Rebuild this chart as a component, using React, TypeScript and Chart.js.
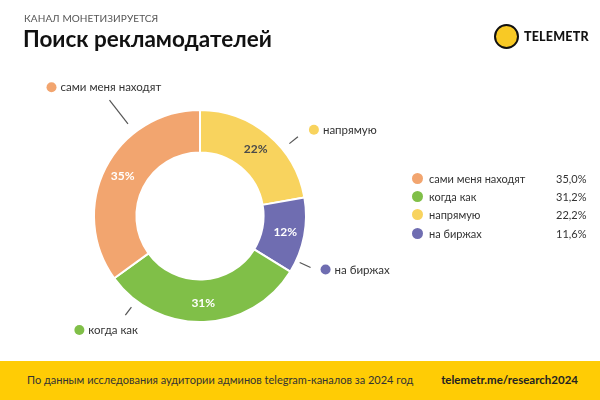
import React, { useEffect, useRef } from "react";
import { Chart, registerables } from "chart.js";

Chart.register(...registerables);

// Data (clockwise from 12 o'clock)
const categories = ["напрямую", "на биржах", "когда как", "сами меня находят"];
const values = [22.2, 11.6, 31.2, 35.0];
const colors = ["#F8D35E", "#6F6DB1", "#80BF48", "#F2A56F"];
const pctTextColors = ["#4a4a4a", "#ffffff", "#ffffff", "#ffffff"];

const FONT = "Lato, 'Open Sans', sans-serif";

// callout styling per slice (angle in degrees from top, clockwise)
const callouts = [
  { angle: 51, r1: 9, r2: 20, dx: 16, dy: -7 },
  { angle: 115, r1: 4, r2: 16, dx: 15, dy: 2 },
  { angle: 217, r1: 8, r2: 18, dx: -46, dy: 15 },
  { angle: 322, r1: 11, r2: 41, dx: -58, dy: -13 },
];

const fmt = (v: number) => v.toFixed(1).replace(".", ",") + "%";

const labelPlugin = {
  id: "donutLabels",
  afterDatasetsDraw(chart: any) {
    const ctx = chart.ctx;
    const meta = chart.getDatasetMeta(0);
    meta.data.forEach((arc: any, i: number) => {
      const { x, y, startAngle, endAngle, outerRadius, innerRadius } = arc.getProps(
        ["x", "y", "startAngle", "endAngle", "outerRadius", "innerRadius"],
        true
      );
      // percent label
      const mid = (startAngle + endAngle) / 2;
      const rm = (outerRadius + innerRadius) / 2 + 2;
      ctx.save();
      ctx.font = `bold 12px ${FONT}`;
      ctx.fillStyle = pctTextColors[i];
      ctx.textAlign = "center";
      ctx.textBaseline = "middle";
      ctx.fillText(Math.round(values[i]) + "%", x + Math.cos(mid) * rm, y + Math.sin(mid) * rm);
      // callout
      const c = callouts[i];
      const a = (c.angle - 90) * Math.PI / 180;
      const x1 = x + Math.cos(a) * (outerRadius + c.r1);
      const y1 = y + Math.sin(a) * (outerRadius + c.r1);
      const x2 = x + Math.cos(a) * (outerRadius + c.r2);
      const y2 = y + Math.sin(a) * (outerRadius + c.r2);
      ctx.strokeStyle = "#555";
      ctx.lineWidth = 1.2;
      ctx.beginPath();
      ctx.moveTo(x1, y1);
      ctx.lineTo(x2, y2);
      ctx.stroke();
      const dxp = x2 + c.dx;
      const dyp = y2 + c.dy;
      ctx.fillStyle = colors[i];
      ctx.beginPath();
      ctx.arc(dxp, dyp, 5, 0, Math.PI * 2);
      ctx.fill();
      ctx.fillStyle = "#333";
      ctx.font = `11.5px ${FONT}`;
      ctx.textAlign = "left";
      ctx.textBaseline = "middle";
      ctx.fillText(categories[i], dxp + 9, dyp + 0.5);
      ctx.restore();
    });
  },
};

export default function App() {
  const ref = useRef<HTMLCanvasElement | null>(null);
  useEffect(() => {
    if (!ref.current) return;
    const chart = new Chart(ref.current, {
      type: "doughnut",
      data: {
        labels: categories,
        datasets: [
          {
            data: values,
            backgroundColor: colors,
            borderColor: "#ffffff",
            borderWidth: 2,
            hoverOffset: 0,
            offset: 0,
          },
        ],
      },
      options: {
        responsive: false,
        animation: false,
        events: [],
        cutout: "60%",
        layout: { padding: { left: 93, right: 293, top: 109, bottom: 77 } },
        plugins: { legend: { display: false }, tooltip: { enabled: false } },
      },
      plugins: [labelPlugin],
    });
    return () => chart.destroy();
  }, []);

  const order = values
    .map((v, i) => i)
    .sort((a, b) => values[b] - values[a]);

  return (
    <div
      style={{
        position: "fixed",
        left: 0,
        top: 0,
        width: 600,
        height: 400,
        background: "#fff",
        fontFamily: FONT,
        overflow: "hidden",
      }}
    >
      <canvas ref={ref} width={600} height={400} style={{ position: "absolute", left: 0, top: 0 }} />
      <div style={{ position: "absolute", left: 24, top: 12, fontSize: 10, color: "#555", letterSpacing: 0.1 }}>
        КАНАЛ МОНЕТИЗИРУЕТСЯ
      </div>
      <div style={{ position: "absolute", left: 23, top: 25, fontSize: 22.5, fontWeight: 700, color: "#111" }}>
        Поиск рекламодателей
      </div>
      <div style={{ position: "absolute", left: 494, top: 24, display: "flex", alignItems: "center" }}>
        <div
          style={{
            position: "relative",
            width: 25,
            height: 25,
            borderRadius: "50%",
            background: "#F8C925",
            border: "2.5px solid #111",
            boxSizing: "border-box",
          }}
        />
        <span style={{ marginLeft: 5, fontSize: 12.5, fontWeight: 900, color: "#111", letterSpacing: 0.2 }}>
          TELEMETR
        </span>
      </div>
      <div style={{ position: "absolute", left: 412, top: 169 }}>
        {order.map((i) => (
          <div key={i} style={{ display: "flex", alignItems: "center", height: 18.3, fontSize: 11, color: "#333" }}>
            <span
              style={{ width: 11, height: 11, borderRadius: "50%", background: colors[i], display: "inline-block" }}
            />
            <span style={{ marginLeft: 6, width: 127 }}>{categories[i]}</span>
            <span>{fmt(values[i])}</span>
          </div>
        ))}
      </div>
      <div
        style={{
          position: "absolute",
          left: 0,
          top: 361,
          width: 600,
          height: 39,
          background: "#FFCC05",
        }}
      >
        <div style={{ position: "absolute", left: 27, top: 12, fontSize: 11, color: "#333" }}>
          По данным исследования аудитории админов telegram-каналов за 2024 год
        </div>
        <div style={{ position: "absolute", right: 22, top: 12, fontSize: 11.5, fontWeight: 700, color: "#222" }}>
          telemetr.me/research2024
        </div>
      </div>
    </div>
  );
}
